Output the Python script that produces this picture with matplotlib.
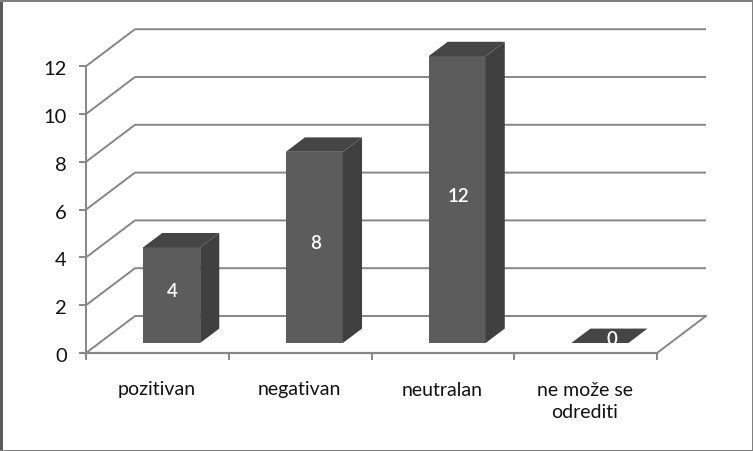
import matplotlib
matplotlib.use("Agg")
import matplotlib.pyplot as plt
from matplotlib.patches import Polygon, Rectangle

categories = ["pozitivan", "negativan", "neutralan", "ne može se\nodrediti"]
values = [4, 8, 12, 0]
y_ticks = [0, 2, 4, 6, 8, 10, 12]

W, H = 753, 451
# pixel size of one category / one value unit on the front plane
cat_px = 142.75
val_px = 23.9
x0_px, y0_px = 86, 353

# 3d look: how far the back wall is shifted, in data units
depth_x = 49 / cat_px
depth_y = 37 / val_px
bar_w = 0.40
bar_left = 0.307
bar_depth_front = 0.27
bar_depth_back = 0.66

GRID = "#868686"
FRONT = "#5c5c5c"
TOP = "#454545"
SIDE = "#404040"
TEXT = "#111111"

plt.rcParams["font.family"] = ["Lato", "DejaVu Sans"]

fig = plt.figure(figsize=(W / 100, H / 100), dpi=100)
ax = fig.add_axes([0, 0, 1, 1])
ax.set_xlim(-x0_px / cat_px, (W - x0_px) / cat_px)
ax.set_ylim((y0_px - H) / val_px, y0_px / val_px)
ax.axis("off")

n = len(categories)
px_x = 1 / cat_px
px_y = 1 / val_px

# gridlines: side wall + back wall
for v in y_ticks:
    ax.plot([0, depth_x, n + depth_x], [v, v + depth_y, v + depth_y],
            color=GRID, lw=1.4, zorder=1, solid_capstyle="butt")
    ax.plot([-6 * px_x, 0], [v, v], color=GRID, lw=1.4, zorder=1)
    ax.text(-19 * px_x, v - 3.5 * px_y, str(v), ha="right", va="center",
            fontsize=14.5, color=TEXT)

# floor and axes
ax.plot([0, n], [0, 0], color=GRID, lw=1.6, zorder=1)
ax.plot([n, n + depth_x], [0, depth_y], color=GRID, lw=1.4, zorder=1)
ax.plot([0, 0], [0, max(y_ticks)], color=GRID, lw=1.4, zorder=1)
for i in range(n + 1):
    ax.plot([i, i], [0, -6 * px_y], color=GRID, lw=1.4, zorder=1)

# bars
for i, v in enumerate(values):
    xl = i + bar_left + bar_depth_front * depth_x
    xr = xl + bar_w
    yb = bar_depth_front * depth_y
    yt = yb + v
    ddx = (bar_depth_back - bar_depth_front) * depth_x
    ddy = (bar_depth_back - bar_depth_front) * depth_y
    ax.add_patch(Polygon([(xl, yb), (xr, yb), (xr, yt), (xl, yt)], fc=FRONT, ec="none", zorder=3))
    ax.add_patch(Polygon([(xr, yb), (xr + ddx, yb + ddy), (xr + ddx, yt + ddy), (xr, yt)],
                         fc=SIDE, ec="none", zorder=3))
    ax.add_patch(Polygon([(xl, yt), (xr, yt), (xr + ddx, yt + ddy), (xl + ddx, yt + ddy)],
                         fc=TOP, ec="none", zorder=3))
    ax.text((xl + xr) / 2 + (12 * px_x if v == 0 else 1 * px_x), yb + v / 2 + 3.5 * px_y, str(v),
            ha="center", va="center", color="white", fontsize=13.5, fontweight="semibold", zorder=4)

# category labels
for i, c in enumerate(categories):
    ax.text(i + 0.495, -28.5 * px_y, c, ha="center", va="top", fontsize=14,
            color=TEXT, linespacing=1.42)

# picture frame, heavier on the left and top
fig.patches.extend([
    Rectangle((0, 0), 3 / W, 1, transform=fig.transFigure, fc="#5a5a5a", ec="none"),
    Rectangle((0, 1 - 2 / H), 1, 2 / H, transform=fig.transFigure, fc="#808080", ec="none"),
    Rectangle((1 - 1.5 / W, 0), 1.5 / W, 1, transform=fig.transFigure, fc="#808080", ec="none"),
    Rectangle((0, 0), 1, 1.5 / H, transform=fig.transFigure, fc="#808080", ec="none"),
])

fig.savefig("out.png", dpi=100)
